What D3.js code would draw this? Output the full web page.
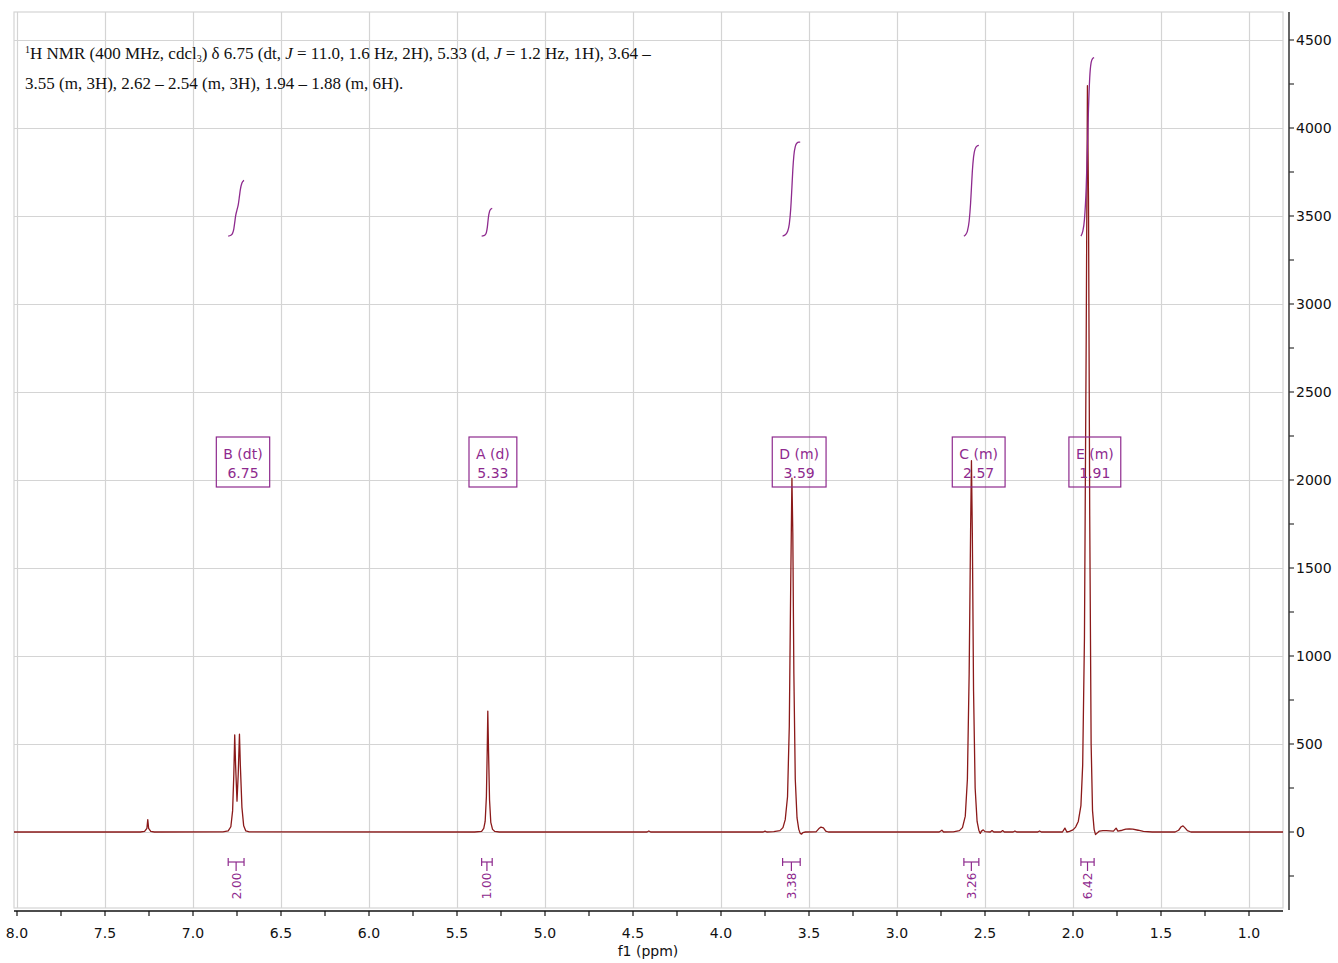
<!DOCTYPE html>
<html><head><meta charset="utf-8">
<script src="https://cdn.jsdelivr.net/npm/d3@7"></script>
<style>body{margin:0;background:#fff}svg{display:block}</style>
</head><body>
<svg id="c" width="1338" height="963"></svg>
<script>
// ---- data ----
const xTickValues = [8.0,7.5,7.0,6.5,6.0,5.5,5.0,4.5,4.0,3.5,3.0,2.5,2.0,1.5,1.0];
const yTickValues = [0,500,1000,1500,2000,2500,3000,3500,4000,4500];
// spectrum points: [ppm, intensity]
const spectrum = [
 [8.05,0],[7.30,0],[7.275,3],[7.262,20],[7.257,70],[7.252,20],[7.24,3],[7.22,0],
 [6.83,1],[6.80,6],[6.785,30],[6.775,120],[6.768,330],[6.763,552],[6.758,380],[6.750,175],[6.743,330],[6.736,556],[6.731,380],[6.722,140],[6.712,35],[6.70,6],[6.68,1],
 [5.40,0],[5.36,4],[5.348,20],[5.34,60],[5.333,200],[5.328,480],[5.325,687],[5.321,470],[5.315,180],[5.308,55],[5.298,15],[5.285,3],[5.26,0],
 [4.42,0],[4.41,6],[4.40,0],[3.76,0],[3.75,5],[3.74,0],
 [3.70,2],[3.665,8],[3.648,25],[3.635,70],[3.622,200],[3.612,600],[3.604,1400],[3.597,2010],[3.592,1700],[3.586,900],[3.578,300],[3.568,80],[3.558,15],[3.550,-8],[3.542,-12],[3.535,-3],[3.52,0],
 [3.46,1],[3.445,18],[3.432,28],[3.418,24],[3.405,5],[3.39,0],
 [2.76,0],[2.745,10],[2.735,0],
 [2.68,1],[2.645,8],[2.628,25],[2.612,90],[2.600,300],[2.590,900],[2.582,1700],[2.577,2110],[2.572,1700],[2.565,800],[2.556,250],[2.545,60],[2.535,10],[2.527,-8],[2.520,5],[2.510,12],[2.50,2],[2.47,0],[2.46,8],[2.45,0],[2.41,0],[2.40,8],[2.39,0],[2.34,0],[2.33,6],[2.32,0],[2.20,0],[2.19,6],[2.18,0],
 [2.06,0],[2.046,22],[2.035,0],
 [2.02,4],[2.00,12],[1.985,28],[1.97,60],[1.955,150],[1.945,380],[1.935,1100],[1.925,2800],[1.918,4240],[1.912,3600],[1.905,1800],[1.897,500],[1.889,120],[1.880,15],[1.872,-15],[1.862,-5],[1.85,5],[1.83,8],[1.81,8],
 [1.77,5],[1.755,22],[1.745,5],[1.72,10],[1.70,16],[1.68,18],[1.66,16],[1.63,10],[1.60,3],[1.55,0],
 [1.42,0],[1.40,10],[1.385,30],[1.375,35],[1.365,25],[1.35,8],[1.33,0],[0.75,0]
];
// peak labels
const peakNames = ["B (dt)","A (d)","D (m)","C (m)","E (m)"];
const peakShifts = [6.75,5.33,3.59,2.57,1.91];
// integrals
const intFrom = [6.80,5.36,3.65,2.62,1.955];
const intTo   = [6.71,5.30,3.55,2.535,1.88];
const intValues = [2.00,1.00,3.38,3.26,6.42];
const intLabels = ["2.00","1.00","3.38","3.26","6.42"];

// ---- layout ----
const svg = d3.select("#c");
const L=14, R=1283, T=12, B=908;
const x = d3.scaleLinear().domain([8.0,1.0]).range([17,1249]);
const y = d3.scaleLinear().domain([0,4500]).range([832,40]);
const purple = "#8e2a8e", red = "#8b1a1a", grid = "#d4d4d4";
const font = "DejaVu Sans, Verdana, sans-serif";

// frame + grid
svg.append("rect").attr("x",L).attr("y",T).attr("width",R-L).attr("height",B-T)
  .attr("fill","none").attr("stroke",grid).attr("stroke-width",1.2);
svg.append("g").selectAll("line").data(xTickValues.filter(v=>x(v)>L+1 && x(v)<R-1)).join("line")
  .attr("x1",d=>Math.round(x(d))+0.5).attr("x2",d=>Math.round(x(d))+0.5).attr("y1",T).attr("y2",B)
  .attr("stroke",grid).attr("stroke-width",1.2);
svg.append("g").selectAll("line").data(yTickValues).join("line")
  .attr("y1",d=>Math.round(y(d))+0.5).attr("y2",d=>Math.round(y(d))+0.5).attr("x1",L).attr("x2",R)
  .attr("stroke",grid).attr("stroke-width",1.2);

// header text
const hdr = svg.append("text").attr("x",25).attr("y",59)
  .attr("font-family","Liberation Serif, Times New Roman, serif")
  .attr("font-size",17).attr("fill","#111");
hdr.append("tspan").attr("dy",-6).attr("font-size",10).text("1");
hdr.append("tspan").attr("dy",6).text("H NMR (400 MHz, cdcl");
hdr.append("tspan").attr("dy",3).attr("font-size",10).text("3");
hdr.append("tspan").attr("dy",-3).text(") δ 6.75 (dt, ");
hdr.append("tspan").attr("font-style","italic").text("J");
hdr.append("tspan").text(" = 11.0, 1.6 Hz, 2H), 5.33 (d, ");
hdr.append("tspan").attr("font-style","italic").text("J");
hdr.append("tspan").text(" = 1.2 Hz, 1H), 3.64 –");
svg.append("text").attr("font-family","Liberation Serif, Times New Roman, serif")
  .attr("font-size",17).attr("fill","#111").attr("x",25).attr("y",89)
  .text("3.55 (m, 3H), 2.62 – 2.54 (m, 3H), 1.94 – 1.88 (m, 6H).");

// clip
svg.append("clipPath").attr("id","clip").append("rect").attr("x",L).attr("y",T).attr("width",R-L).attr("height",B-T);

// spectrum
svg.append("path").datum(spectrum).attr("clip-path","url(#clip)")
  .attr("d",d3.line().x(d=>x(d[0])).y(d=>y(d[1])))
  .attr("fill","none").attr("stroke",red).attr("stroke-width",1.3).attr("stroke-linejoin","round");

// integrals
const intBase = 3386, intPerUnit = 158;
function interp(p){
  for(let i=0;i<spectrum.length-1;i++){
    const a=spectrum[i], b=spectrum[i+1];
    if(p<=a[0] && p>=b[0]){const t=(a[0]-p)/(a[0]-b[0]); return a[1]+t*(b[1]-a[1]);}
  }
  return 0;
}
intFrom.forEach((f,i)=>{
  const t = intTo[i];
  const pts = [[f,interp(f)]].concat(spectrum.filter(d=>d[0]<f && d[0]>t)).concat([[t,interp(t)]]);
  let cum=[0];
  for(let k=1;k<pts.length;k++){
    cum.push(cum[k-1] + (pts[k-1][0]-pts[k][0])*(Math.max(0,pts[k-1][1])+Math.max(0,pts[k][1]))/2);
  }
  const tot = cum[cum.length-1];
  const curve = pts.map((p,k)=>[p[0], intBase + cum[k]/tot*intValues[i]*intPerUnit]);
  svg.append("path").datum(curve)
    .attr("d",d3.line().curve(d3.curveMonotoneX).x(d=>x(d[0])).y(d=>y(d[1])))
    .attr("fill","none").attr("stroke",purple).attr("stroke-width",1.3);
  // bracket
  const x1=x(f), x2=x(t), xm=(x1+x2)/2, yb=862;
  const g = svg.append("g").attr("stroke",purple).attr("stroke-width",1.2).attr("fill","none");
  g.append("line").attr("x1",x1).attr("x2",x2).attr("y1",yb).attr("y2",yb);
  g.append("line").attr("x1",x1).attr("x2",x1).attr("y1",yb-4).attr("y2",yb+4);
  g.append("line").attr("x1",x2).attr("x2",x2).attr("y1",yb-4).attr("y2",yb+4);
  g.append("line").attr("x1",xm).attr("x2",xm).attr("y1",yb).attr("y2",yb+9);
  svg.append("text").attr("transform",`translate(${xm+4.5},${886}) rotate(-90)`)
    .attr("text-anchor","middle").attr("font-family",font).attr("font-size",12)
    .attr("fill",purple).text(intLabels[i]);
});

// peak label boxes
peakNames.forEach((n,i)=>{
  const cx = x(peakShifts[i]) + 6;
  const g = svg.append("g");
  const t1 = g.append("text").attr("x",cx).attr("y",459).attr("text-anchor","middle")
    .attr("font-family",font).attr("font-size",14).attr("fill",purple).text(n);
  const t2 = g.append("text").attr("x",cx).attr("y",478).attr("text-anchor","middle")
    .attr("font-family",font).attr("font-size",14).attr("fill",purple).text(peakShifts[i].toFixed(2));
  const w = Math.max(t1.node().getComputedTextLength(), t2.node().getComputedTextLength()) + 14;
  g.insert("rect","text").attr("x",cx-w/2).attr("y",437).attr("width",w).attr("height",50)
    .attr("fill","none").attr("stroke",purple).attr("stroke-width",1.2);
});

// x axis
const xa = svg.append("g").attr("transform","translate(0,911)");
xa.append("line").attr("x1",L).attr("x2",R).attr("y1",0).attr("y2",0).attr("stroke","#111").attr("stroke-width",1.6);
const minorX = d3.range(8.0,0.99,-0.25).filter(v=>x(v)>=L && x(v)<=R);
xa.selectAll("line.t").data(minorX).join("line").attr("class","t")
  .attr("x1",d=>x(d)).attr("x2",d=>x(d)).attr("y1",0).attr("y2",5).attr("stroke","#111").attr("stroke-width",1.2);
xa.selectAll("text").data(xTickValues).join("text")
  .attr("x",d=>x(d)).attr("y",27).attr("text-anchor","middle")
  .attr("font-family",font).attr("font-size",14).attr("fill","#111").text(d=>d.toFixed(1));
svg.append("text").attr("x",648).attr("y",956).attr("text-anchor","middle")
  .attr("font-family",font).attr("font-size",14).attr("fill","#111").text("f1 (ppm)");

// y axis
const ya = svg.append("g").attr("transform","translate(1289,0)");
ya.append("line").attr("x1",0).attr("x2",0).attr("y1",T).attr("y2",B+2).attr("stroke","#555").attr("stroke-width",1.8);
const minorY = d3.range(-250,4700,250).filter(v=>y(v)>=T && y(v)<=B);
ya.selectAll("line.t").data(minorY).join("line").attr("class","t")
  .attr("x1",0).attr("x2",5).attr("y1",d=>y(d)).attr("y2",d=>y(d)).attr("stroke","#333").attr("stroke-width",1.2);
ya.selectAll("text").data(yTickValues).join("text")
  .attr("x",7).attr("y",d=>y(d)+5).attr("font-family",font).attr("font-size",14)
  .attr("fill","#111").text(d=>d);
</script>
</body></html>
